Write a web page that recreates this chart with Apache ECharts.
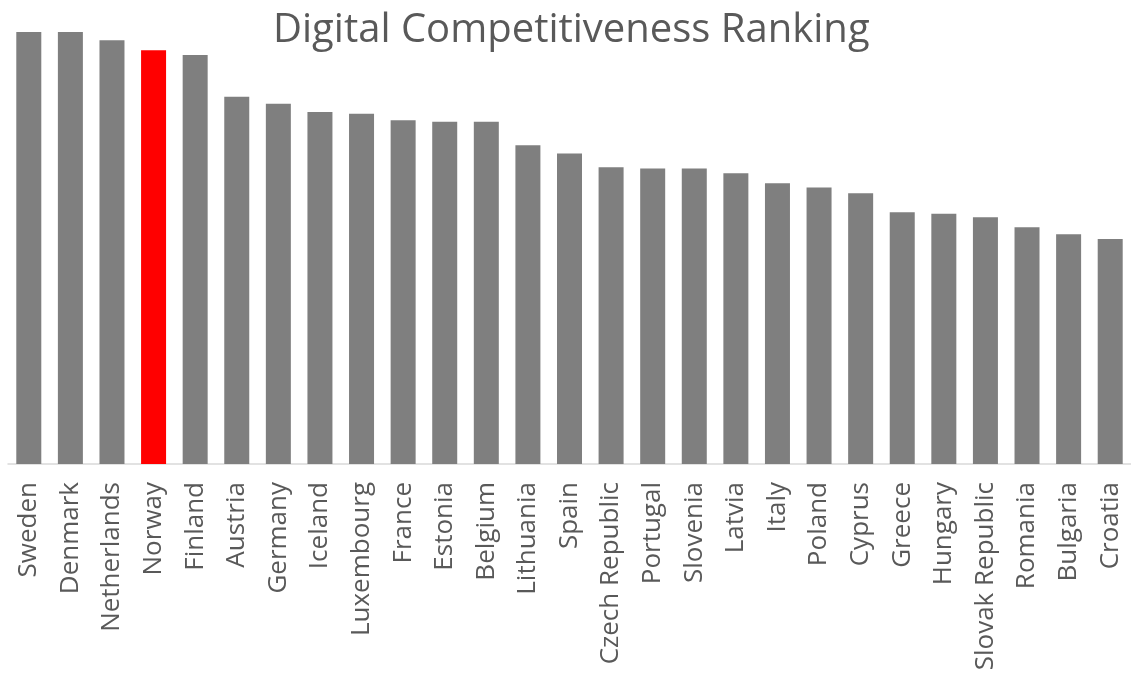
<!DOCTYPE html>
<html>
<head>
<meta charset="utf-8">
<script src="https://cdn.jsdelivr.net/npm/echarts@6/dist/echarts.min.js"></script>
<style>html,body{margin:0;padding:0;background:#fff}#c{width:1131px;height:675px}</style>
</head>
<body>
<div id="c"></div>
<script>
const countries = ["Sweden","Denmark","Netherlands","Norway","Finland","Austria","Germany","Iceland","Luxembourg","France","Estonia","Belgium","Lithuania","Spain","Czech Republic","Portugal","Slovenia","Latvia","Italy","Poland","Cyprus","Greece","Hungary","Slovak Republic","Romania","Bulgaria","Croatia"];
const scores = [100,100,98.1,95.8,94.7,85.0,83.4,81.5,81.1,79.6,79.2,79.2,73.8,71.9,68.7,68.4,68.4,67.3,65.0,64.0,62.7,58.3,57.9,57.1,54.8,53.2,52.1];
const highlighted = ["Norway"];

const chart = echarts.init(document.getElementById('c'));
chart.setOption({
  animation: false,
  backgroundColor: '#ffffff',
  title: {
    text: 'Digital Competitiveness Ranking',
    left: 268,
    top: 6,
    textStyle: {fontFamily: 'Open Sans', fontSize: 40, fontWeight: 'normal', color: '#595959'}
  },
  grid: {left: 8, width: 1130, top: 32, bottom: 211, containLabel: false},
  xAxis: {
    type: 'category',
    data: countries,
    axisLine: {lineStyle: {color: '#d9d9d9', width: 1.5}},
    axisTick: {show: false},
    axisLabel: {rotate: 90, interval: 0, margin: 18, color: '#595959', fontFamily: 'Open Sans', fontSize: 26}
  },
  yAxis: {type: 'value', min: 0, max: 100, show: false},
  series: [{
    type: 'bar',
    barWidth: 25,
    data: scores.map((v, i) => ({
      value: v,
      itemStyle: {color: highlighted.includes(countries[i]) ? '#ff0000' : '#7f7f7f'}
    }))
  }]
});
</script>
</body>
</html>
